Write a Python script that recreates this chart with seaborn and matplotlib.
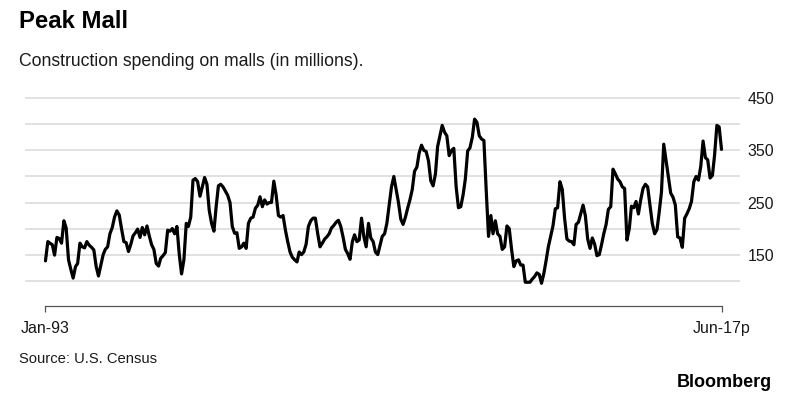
import matplotlib
matplotlib.use("Agg")
import matplotlib.pyplot as plt
import matplotlib.dates as mdates
import numpy as np
import pandas as pd
import seaborn as sns

# ---------------- data ----------------
start_month = "1993-01"
end_month = "2017-06"
# Monthly construction spending on malls (millions), Jan-1993 .. Jun-2017
spending = [
    138, 175, 172, 169, 149, 183, 181, 172, 215, 201, 140, 122,  # 1993
    105, 127, 133, 172, 165, 163, 175, 168, 164, 159, 127, 109,  # 1994
    130, 150, 160, 165, 190, 202, 222, 234, 226, 200, 175, 173,  # 1995
    156, 170, 186, 192, 199, 183, 202, 188, 205, 186, 169, 160,  # 1996
    133, 128, 143, 148, 154, 197, 195, 200, 190, 204, 150, 113,  # 1997
    140, 210, 204, 222, 293, 296, 290, 262, 280, 298, 285, 235,  # 1998
    210, 195, 240, 282, 285, 280, 272, 264, 250, 204, 191, 192,  # 1999
    162, 165, 172, 162, 210, 220, 222, 239, 245, 261, 242, 255,  # 2000
    247, 250, 250, 291, 265, 225, 222, 225, 197, 175, 155, 145,  # 2001
    140, 136, 155, 150, 155, 170, 204, 215, 220, 220, 190, 165,  # 2002
    172, 180, 184, 190, 201, 206, 212, 216, 204, 184, 160, 152,  # 2003
    141, 175, 188, 175, 178, 220, 185, 165, 210, 182, 175, 155,  # 2004
    150, 168, 185, 190, 210, 245, 280, 300, 275, 250, 218, 208,  # 2005
    222, 240, 255, 275, 310, 318, 345, 360, 350, 348, 330, 292,  # 2006
    282, 305, 357, 378, 398, 385, 378, 340, 350, 354, 280, 240,  # 2007
    242, 265, 295, 349, 355, 375, 410, 404, 378, 372, 369, 275,  # 2008
    185, 225, 190, 215, 190, 185, 160, 165, 205, 200, 160, 127,  # 2009
    138, 140, 130, 130, 97, 97, 97, 103, 108, 115, 112, 95,      # 2010
    114, 140, 165, 185, 205, 238, 240, 290, 275, 220, 180, 176,  # 2011
    175, 169, 208, 212, 228, 245, 225, 180, 162, 182, 170, 148,  # 2012
    150, 170, 190, 208, 237, 242, 314, 305, 295, 290, 280, 277,  # 2013
    178, 200, 243, 240, 252, 228, 255, 277, 285, 280, 245, 210,  # 2014
    190, 198, 230, 270, 362, 330, 300, 268, 260, 245, 184, 182,  # 2015
    164, 220, 228, 238, 252, 290, 300, 293, 320, 368, 336, 332,  # 2016
    297, 302, 340, 398, 395, 352,                                # 2017
]
grid_values = [100, 150, 200, 250, 300, 350, 400, 450]
labeled_values = [150, 250, 350, 450]
x_labels = ["Jan-93", "Jun-17p"]

title = "Peak Mall"
subtitle = "Construction spending on malls (in millions)."
source = "Source: U.S. Census"
brand = "Bloomberg"

dates = pd.date_range(start_month, end_month, freq="MS")
df = pd.DataFrame({"date": dates, "spending": spending})

# ---------------- style ----------------
sns.set_theme(style="white")
plt.rcParams["font.family"] = ["Liberation Sans", "DejaVu Sans"]

W, H = 800, 398
fig = plt.figure(figsize=(W / 100, H / 100), dpi=100)
fig.patch.set_facecolor("white")

ax_top_px, ax_bot_px = 93.1, 291.1
ax = fig.add_axes([25 / W, 1 - ax_bot_px / H, 715 / W, (ax_bot_px - ax_top_px) / H])

sns.lineplot(data=df, x="date", y="spending", ax=ax, color="black",
             linewidth=2.3, clip_on=False)

ax.set_ylim(80, 460)
ax.set_xlim(dates[0] - pd.Timedelta(days=270), dates[-1] + pd.Timedelta(days=244))
ax.set_xlabel("")
ax.set_ylabel("")

# horizontal grid and right-hand labels
ax.set_yticks(grid_values)
ax.set_yticklabels([str(v) if v in labeled_values else "" for v in grid_values])
ax.yaxis.tick_right()
ax.grid(axis="y", color="#dedede", linewidth=1.3)
ax.grid(axis="x", visible=False)
ax.set_axisbelow(True)
ax.tick_params(axis="y", length=0, pad=5.5, labelsize=11.5, labelcolor="#1a1a1a")

# bracket-like x axis
for s in ["top", "left", "right"]:
    ax.spines[s].set_visible(False)
ax.spines["bottom"].set_position(("outward", 10.7))
ax.spines["bottom"].set_bounds(mdates.date2num(dates[0]), mdates.date2num(dates[-1]))
ax.spines["bottom"].set_color("#555555")
ax.spines["bottom"].set_linewidth(0.9)
ax.set_xticks([dates[0], dates[-1]])
ax.set_xticklabels(x_labels)
ax.tick_params(axis="x", bottom=True, length=4, width=0.9, color="#555555",
               direction="out", pad=7.0, labelsize=11.5, labelcolor="#1a1a1a")

# texts
fig.text(19 / W, 1 - 28 / H, title, fontsize=17.2, fontweight="bold",
         va="baseline", ha="left", color="black")
fig.text(19 / W, 1 - 66.5 / H, subtitle, fontsize=12.7,
         va="baseline", ha="left", color="#1a1a1a")
fig.text(19 / W, 1 - 363 / H, source, fontsize=10.6,
         va="baseline", ha="left", color="#1a1a1a")
fig.text(772 / W, 1 - 386.7 / H, brand, fontsize=13, fontweight="bold",
         va="baseline", ha="right", color="black")

fig.savefig("out.png", dpi=100, facecolor="white")
